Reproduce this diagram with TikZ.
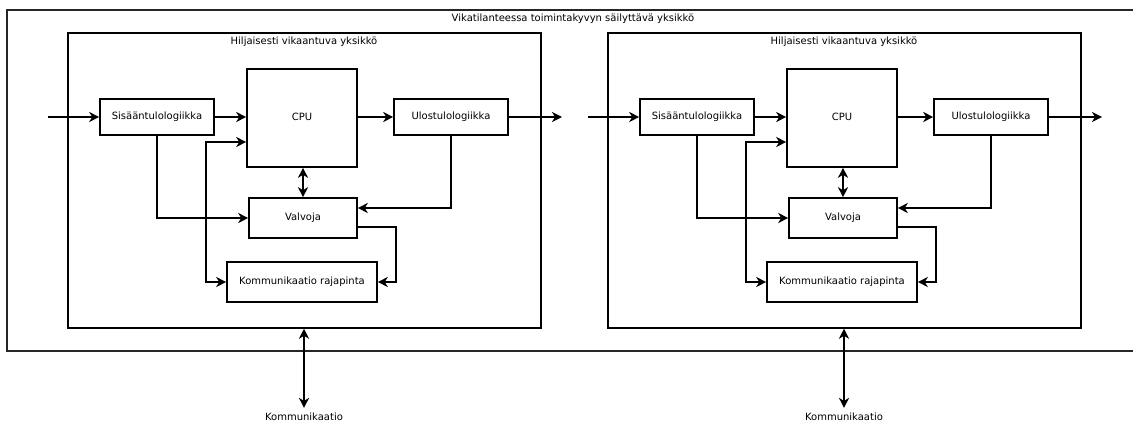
\documentclass[tikz,border=0pt]{standalone}
\usepackage{fontspec}
\setmainfont{DejaVu Sans}
\usetikzlibrary{arrows.meta}
\begin{document}
\begin{tikzpicture}[x=1pt,y=-1pt,
  every node/.style={font=\fontsize{10}{12}\selectfont},
  blk/.style={draw, line width=1.6pt, inner sep=0pt, fill=white},
  frame/.style={draw, line width=1.5pt},
  arr/.style={line width=1.7pt, -{Stealth[length=10pt,width=10pt,inset=3pt]}},
  darr/.style={line width=1.7pt, {Stealth[length=10pt,width=10pt,inset=3pt]}-{Stealth[length=10pt,width=10pt,inset=3pt]}},
  lbl/.style={inner sep=1pt}]
\clip (0,0) rectangle (1133,423);
\fill[white] (0,0) rectangle (1133,423);

% enclosing fault-tolerant unit (runs past the right edge)
\draw[line width=1.7pt, black!85] (7,10) rectangle (1145,351);
\node[lbl] (outertitle) at (573,19) {Vikatilanteessa toimintakyvyn säilyttävä yksikkö};

% one fail-silent unit, drawn twice
\foreach \dx/\u in {0/a, 540/b} {
  \begin{scope}[xshift=\dx pt]
    \node[frame, minimum width=473pt, minimum height=295pt, inner sep=0pt] (inner\u) at (304.5,180.5) {};
    \node[lbl] (title\u) at (304,42) {Hiljaisesti vikaantuva yksikkö};
    \node[blk, minimum width=114pt, minimum height=36pt] (sis\u) at (157,117) {Sisääntulologiikka};
    \node[blk, minimum width=110pt, minimum height=98pt] (cpu\u) at (302,118) {};
    \node[lbl] (cputxt\u) at (302,117) {CPU};
    \node[blk, minimum width=114pt, minimum height=36pt] (ulos\u) at (451,117) {Ulostulologiikka};
    \node[blk, minimum width=108pt, minimum height=40pt] (valv\u) at (303,218) {Valvoja};
    \node[blk, minimum width=150pt, minimum height=40pt] (komm\u) at (302,282) {Kommunikaatio rajapinta};
    \coordinate (in\u) at (48,117);
    \coordinate (out\u) at (562,117);
    \node[lbl] (kom\u) at (304,417) {Kommunikaatio};

    \draw[arr] (in\u) -- (sis\u.west);
    \draw[arr] (sis\u.east) -- (sis\u.east -| cpu\u.west);
    \draw[arr] (cpu\u.east |- ulos\u.west) -- (ulos\u.west);
    \draw[arr] (ulos\u.east) -- (out\u);
    \draw[arr] (sis\u.south) |- (valv\u.west);
    \draw[arr] (ulos\u.south) |- ([yshift=10pt]valv\u.east);
    \draw[darr] (valv\u.north) -- (valv\u.north |- cpu\u.south);
    \draw[arr] ([yshift=-9pt]valv\u.east) -- ++(38,0) |- (komm\u.east);
    \draw[darr] ([yshift=-24pt]cpu\u.west) -- ++(-40,0) |- (komm\u.west);
    \draw[darr, shorten >=4pt] ([xshift=-0.5pt]inner\u.south) -- (kom\u.north);
  \end{scope}
}
\end{tikzpicture}
\end{document}
